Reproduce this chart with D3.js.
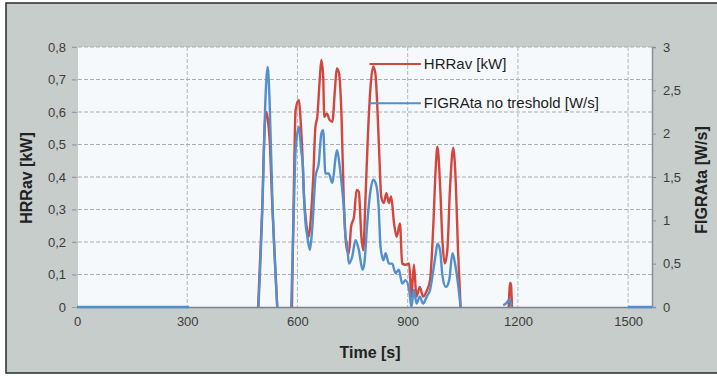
<!DOCTYPE html>
<html>
<head>
<meta charset="utf-8">
<script src="https://cdn.jsdelivr.net/npm/d3@7"></script>
<style>
  html, body { margin: 0; padding: 0; background: #ffffff; }
  svg { display: block; font-family: "Liberation Sans", Arial, sans-serif; }
</style>
</head>
<body>
<div id="chart"></div>
<script>
// time axis ticks [s]
var timeTicks = [0, 300, 600, 900, 1200, 1500];
var hrrTicks = [0, 0.1, 0.2, 0.3, 0.4, 0.5, 0.6, 0.7, 0.8];
var figraTicks = [0, 0.5, 1, 1.5, 2, 2.5, 3];

// HRRav [kW] (null = no data)
var hrrTime = [493, 504, 511, 515, 519, 524, 532, 545, 546,
  585, 590, 595, 604, 608, 613, 617, 625, 631, 636, 643, 649, 654, 660, 665, 670, 673, 680, 688, 695,
  702, 707, 713, 720, 726, 735, 740, 746, 754, 761, 767, 774, 779, 785, 792, 799, 806, 812, 817, 823,
  828, 835, 842, 849, 855, 863, 870, 879, 885, 894, 904, 910, 917, 924, 933, 942, 952, 961, 970, 976,
  981, 988, 995, 1001, 1008, 1015, 1024, 1031, 1037, 1044, 1045,
  1175, 1179, 1181, 1184];
var hrrValue = [0, 0.3, 0.56, 0.6, 0.58, 0.52, 0.3, 0, null,
  0, 0.35, 0.606, 0.637, 0.585, 0.483, 0.36, 0.247, 0.216, 0.268, 0.40, 0.555, 0.585, 0.688, 0.76, 0.71, 0.585, 0.595, 0.575, 0.57,
  0.668, 0.734, 0.72, 0.585, 0.33, 0.175, 0.165, 0.247, 0.278, 0.36, 0.355, 0.216, 0.175, 0.33, 0.534, 0.678, 0.74, 0.72, 0.627, 0.462,
  0.34, 0.32, 0.35, 0.32, 0.34, 0.257, 0.216, 0.257, 0.134, 0.13, 0.134, 0.032, 0.13, 0.032, 0.062, 0.032, 0.05, 0.083, 0.257, 0.42,
  0.493, 0.38, 0.196, 0.134, 0.175, 0.36, 0.49, 0.38, 0.175, 0, null,
  0, 0.075, 0.07, 0];

// FIGRAta no treshold [W/s] (null = no data)
var figraTime = [0, 305, 306,
  494, 505, 512, 519, 524, 532, 545, 546,
  583, 590, 595, 604, 610, 615, 617, 622, 627, 634, 640, 649, 658, 665, 670, 676, 685, 695,
  704, 708, 715, 722, 726, 731, 735, 740, 749, 758, 767, 777, 782, 790, 799, 806, 813, 821,
  826, 834, 840, 849, 858, 867, 876, 885, 894, 904, 910, 917, 924, 933, 942, 952, 961, 970, 976,
  981, 988, 995, 1004, 1013, 1022, 1029, 1037, 1044, 1045,
  1160, 1170, 1177, 1183, 1184,
  1500, 1565];
var figraValue = [0, 0, null,
  0, 1.2, 2.3, 2.77, 2.4, 1.2, 0, null,
  0, 1.1, 1.81, 2.08, 1.81, 1.62, 1.35, 0.97, 0.81, 0.66, 0.89, 1.5, 1.66, 2.0, 2.04, 1.54, 1.54, 1.43,
  1.73, 1.81, 1.62, 1.35, 1.16, 0.81, 0.73, 0.5, 0.58, 0.77, 0.66, 0.43, 0.5, 0.97, 1.35, 1.47, 1.43, 1.16,
  0.7, 0.54, 0.62, 0.5, 0.5, 0.39, 0.43, 0.27, 0.31, 0.2, 0, 0.2, 0.04, 0.12, 0.04, 0.12, 0.2, 0.43, 0.6,
  0.73, 0.66, 0.35, 0.23, 0.31, 0.62, 0.5, 0.27, 0, null,
  0.02, 0.05, 0.09, 0, null,
  0, 0];

var hrrLabel = "HRRav [kW]";
var figraLabel = "FIGRAta no treshold [W/s]";

(function () {
  var W = 717, H = 378;
  var margin = {top: 47, right: 65, bottom: 71, left: 77};
  var width = W - margin.left - margin.right,
      height = H - margin.top - margin.bottom;

  var red = "#d2473d", blue = "#5190cd";
  var tickColor = "#3c3c3c";

  var svg = d3.select("#chart").append("svg")
      .attr("width", W)
      .attr("height", H);

  // scanned gray panel with dark frame
  svg.append("rect")
    .attr("x", 6).attr("y", 3)
    .attr("width", W - 4).attr("height", 370)
    .style("fill", "#c6cdca")
    .style("stroke", "#2a2a2a")
    .style("stroke-width", 1.5);

  var g = svg.append("g")
      .attr("transform", `translate(${margin.left},${margin.top})`);

  g.append("rect")
    .attr("width", width)
    .attr("height", height)
    .style("fill", "#f6f9fc");

  var x = d3.scaleLinear().domain([0, 1565]).range([0, width]);
  var yL = d3.scaleLinear().domain([0, 0.8]).range([height, 0]);
  var yR = d3.scaleLinear().domain([0, 3]).range([height, 0]);

  var comma = d => String(d).replace(".", ",");

  // grid
  g.append("g")
    .selectAll("line.h")
    .data(hrrTicks.filter(d => d > 0))
    .enter().append("line")
      .attr("x1", -5).attr("x2", width)
      .attr("y1", d => yL(d)).attr("y2", d => yL(d))
      .style("stroke", "#a9adb0")
      .style("stroke-width", 1)
      .style("stroke-dasharray", "4,2");

  g.append("g")
    .selectAll("line.v")
    .data(timeTicks.filter(d => d > 0))
    .enter().append("line")
      .attr("x1", d => x(d)).attr("x2", d => x(d))
      .attr("y1", 0).attr("y2", height + 3)
      .style("stroke", "#b4b8bb")
      .style("stroke-width", 1)
      .style("stroke-dasharray", "4,2");

  // axes
  var xAxis = g.append("g")
    .attr("transform", `translate(0,${height})`)
    .call(d3.axisBottom(x).tickValues(timeTicks).tickSize(0).tickPadding(10).tickFormat(d3.format("d")));
  xAxis.select(".domain").style("stroke", "#7d8186").style("stroke-width", 1.5);

  var leftAxis = g.append("g")
    .call(d3.axisLeft(yL).tickValues(hrrTicks).tickSize(5).tickPadding(6).tickFormat(comma));
  leftAxis.select(".domain").style("stroke", "#c5c9cc");
  leftAxis.selectAll(".tick line").style("stroke", "#9a9ea2");

  var rightAxis = g.append("g")
    .attr("transform", `translate(${width},0)`)
    .call(d3.axisRight(yR).tickValues(figraTicks).tickSize(4).tickPadding(7).tickFormat(comma));
  rightAxis.select(".domain").style("stroke", "#8c9095").style("stroke-width", 1.5);
  rightAxis.selectAll(".tick line").style("stroke", "#8c9095");

  svg.selectAll(".tick text")
    .style("font-size", "13px")
    .style("font-family", "'Liberation Sans', Arial, sans-serif")
    .style("fill", tickColor);

  // series
  var hrrData = hrrTime.map((t, i) => ({t: t, v: hrrValue[i]}));
  var figraData = figraTime.map((t, i) => ({t: t, v: figraValue[i]}));

  var hrrLine = d3.line()
    .defined(d => d.v !== null)
    .x(d => x(d.t))
    .y(d => yL(d.v))
    .curve(d3.curveMonotoneX);

  var figraLine = d3.line()
    .defined(d => d.v !== null)
    .x(d => x(d.t))
    .y(d => yR(d.v))
    .curve(d3.curveMonotoneX);

  g.append("path")
    .datum(hrrData)
    .attr("d", hrrLine)
    .style("fill", "none")
    .style("stroke", red)
    .style("stroke-width", 2.4)
    .style("stroke-linejoin", "round");

  g.append("path")
    .datum(figraData)
    .attr("d", figraLine)
    .style("fill", "none")
    .style("stroke", blue)
    .style("stroke-width", 2.4)
    .style("stroke-linejoin", "round");

  // series labels with leader lines
  var labels = [
    {text: hrrLabel, color: red, y: yL(0.748)},
    {text: figraLabel, color: blue, y: yR(2.35)}
  ];
  var lab = g.selectAll(".lab")
    .data(labels)
    .enter().append("g")
      .attr("class", "lab");
  lab.append("line")
    .attr("x1", x(796)).attr("x2", x(936))
    .attr("y1", d => d.y).attr("y2", d => d.y)
    .style("stroke", d => d.color)
    .style("stroke-width", 2);
  lab.append("text")
    .attr("x", x(944))
    .attr("y", d => d.y + 5)
    .style("font-size", "15px")
    .style("fill", "#1e1e1e")
    .text(d => d.text);

  // axis titles
  svg.append("text")
    .attr("transform", "translate(32,178) rotate(-90)")
    .style("text-anchor", "middle")
    .style("font-size", "16px")
    .style("font-weight", "bold")
    .style("fill", "#222")
    .text("HRRav [kW]");

  svg.append("text")
    .attr("transform", "translate(707,180) rotate(-90)")
    .style("text-anchor", "middle")
    .style("font-size", "16px")
    .style("font-weight", "bold")
    .style("fill", "#222")
    .text("FIGRAta [W/s]");

  svg.append("text")
    .attr("x", 370)
    .attr("y", 358)
    .style("text-anchor", "middle")
    .style("font-size", "16px")
    .style("font-weight", "bold")
    .style("fill", "#222")
    .text("Time [s]");
})();
</script>
</body>
</html>
